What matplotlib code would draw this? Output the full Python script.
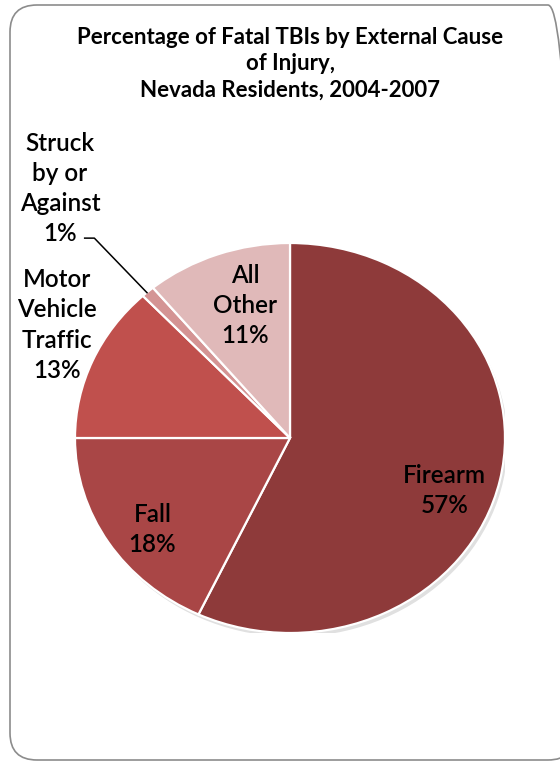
import matplotlib
matplotlib.use("Agg")
import matplotlib.pyplot as plt
from matplotlib.patches import FancyBboxPatch, Ellipse

# data (clockwise from 12 o'clock)
causes = ["Firearm", "Fall", "Motor\nVehicle\nTraffic", "Struck\nby or\nAgainst", "All\nOther"]
percents = [57, 18, 13, 1, 11]
colors = ["#8E3A3A", "#A94646", "#C0504D", "#D49494", "#E0B9B9"]

# label spots inside the pie axes (pie radius = 1)
label_xy = [(0.72, -0.27), (-0.64, -0.47), (-1.085, 0.58), (-1.07, 1.28), (-0.21, 0.68)]

plt.rcParams["font.family"] = ["Lato", "DejaVu Sans"]

fig = plt.figure(figsize=(5.6, 7.63), dpi=100)
W, H = 560, 763

# rounded chart frame, runs off the right edge
frame = FancyBboxPatch((0.10, 0.03), 5.65, 7.55,
                       boxstyle="round,pad=0,rounding_size=0.27",
                       transform=fig.dpi_scale_trans, fill=False,
                       edgecolor="#8c8c8c", linewidth=1.2)
fig.patches.append(frame)

title_lines = ["Percentage of Fatal TBIs by External Cause", "of Injury,", "Nevada Residents, 2004-2007"]
for line, ypx in zip(title_lines, [38, 64, 90]):
    fig.text(290 / W, 1 - ypx / H, line, ha="center", va="center",
             fontsize=16, fontweight="bold")

# pie axes: ellipse spans x 75..505, y 243..633 px
ax = fig.add_axes([75 / W, 1 - 633 / H, 430 / W, 390 / H])
ax.add_patch(Ellipse((0.012, -0.02), 2.0, 2.0, color="#000000", alpha=0.12, lw=0, zorder=0))
wedges, _ = ax.pie(percents, colors=colors, startangle=90, counterclock=False,
                   wedgeprops=dict(edgecolor="white", linewidth=1.6))
ax.set_aspect("auto")
ax.set_xlim(-1, 1)
ax.set_ylim(-1, 1)
ax.axis("off")

for name, p, (x, y) in zip(causes, percents, label_xy):
    ax.text(x, y, f"{name}\n{p}%", ha="center", va="center", fontsize=17.5,
            fontweight="semibold", linespacing=1.38, color="black", clip_on=False)

# leader line for the 1% slice
ax.plot([-0.955, -0.91, -0.665], [1.025, 1.025, 0.745], color="black", lw=1.1, clip_on=False)

fig.savefig("out.png", dpi=100)
